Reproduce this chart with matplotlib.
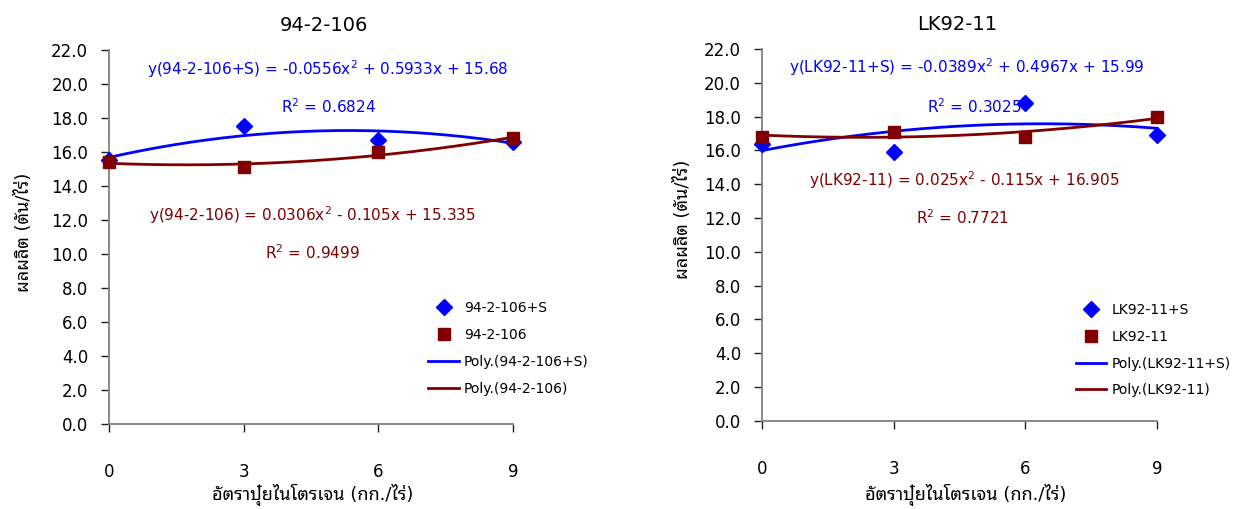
import numpy as np
import matplotlib
matplotlib.use("Agg")
import matplotlib.pyplot as plt

plt.rcParams['font.family'] = ['DejaVu Sans', 'Noto Sans Thai Looped']
plt.rcParams['mathtext.fontset'] = 'dejavusans'

# nitrogen rate (kg/rai)
rates = [0, 3, 6, 9]

# yield (ton/rai), 94-2-106
y_9421_s = [15.5, 17.5, 16.7, 16.6]
y_9421 = [15.4, 15.1, 16.0, 16.8]
# fitted polynomial coefficients (a, b, c) for a*x^2 + b*x + c
fit_9421_s = [-0.0556, 0.5933, 15.68]
fit_9421 = [0.0306, -0.105, 15.335]
r2_9421_s = 0.6824
r2_9421 = 0.9499

# yield (ton/rai), LK92-11
y_lk_s = [16.4, 15.9, 18.8, 16.9]
y_lk = [16.8, 17.1, 16.8, 18.0]
fit_lk_s = [-0.0389, 0.4967, 15.99]
fit_lk = [0.025, -0.115, 16.905]
r2_lk_s = 0.3025
r2_lk = 0.7721

y_ticks = np.arange(0, 22.1, 2)
BLUE = '#0000FF'
RED = '#800000'


def eq_text(name, coef):
    a, b, c = coef
    sb = '+' if b >= 0 else '-'
    sc = '+' if c >= 0 else '-'
    return 'y(%s) = %gx$^{2}$ %s %gx %s %g' % (name, a, sb, abs(b), sc, abs(c))


def draw_panel(ax, title, name_s, name, ys, yn, fit_s, fit_n, r2_s, r2_n, pos):
    xs = np.linspace(rates[0], rates[-1], 200)
    line_s, = ax.plot(xs, np.polyval(fit_s, xs), color=BLUE, lw=2.0,
                      clip_on=False, zorder=2)
    line_n, = ax.plot(xs, np.polyval(fit_n, xs), color=RED, lw=2.0,
                      clip_on=False, zorder=2)
    pts_s, = ax.plot(rates, ys, 'D', color=BLUE, ms=8, ls='none',
                     clip_on=False, zorder=3)
    pts_n, = ax.plot(rates, yn, 's', color=RED, ms=8, ls='none',
                     clip_on=False, zorder=3)

    ax.set_xlim(0, 9)
    ax.set_ylim(0, 22)
    ax.set_xticks(rates)
    ax.set_yticks(y_ticks)
    ax.set_yticklabels(['%.1f' % v for v in y_ticks])
    ax.tick_params(axis='both', direction='out', length=6, width=1,
                   color='#202020', labelsize=12)
    ax.tick_params(axis='x', pad=22)
    ax.tick_params(axis='y', pad=9)
    for side in ['top', 'right']:
        ax.spines[side].set_visible(False)
    for side in ['left', 'bottom']:
        ax.spines[side].set_color('#808080')
        ax.spines[side].set_linewidth(1.3)

    ax.set_title(title, fontsize=14, pad=14, x=pos['title'])
    ax.set_xlabel('อัตราปุ๋ยไนโตรเจน (กก./ไร่)', fontsize=13, va='center')
    ax.xaxis.set_label_coords(*pos['xlab'])
    ax.set_ylabel('ผลผลิต (ตัน/ไร่)', fontsize=13, va='center')
    ax.yaxis.set_label_coords(*pos['ylab'])

    ax.text(*pos['eq_s'], eq_text(name_s, fit_s),
            color=BLUE, fontsize=11, ha='center', va='center')
    ax.text(*pos['r2_s'], 'R$^{2}$ = %.4f' % r2_s,
            color=BLUE, fontsize=11, ha='center', va='center')
    ax.text(*pos['eq_n'], eq_text(name, fit_n),
            color=RED, fontsize=11, ha='center', va='center')
    ax.text(*pos['r2_n'], 'R$^{2}$ = %.4f' % r2_n,
            color=RED, fontsize=11, ha='center', va='center')

    ax.legend([pts_s, pts_n, line_s, line_n],
              [name_s, name, 'Poly.(%s)' % name_s, 'Poly.(%s)' % name],
              loc='upper left', bbox_to_anchor=pos['legend'], frameon=False,
              fontsize=10, handlelength=2.2, handletextpad=0.36,
              labelspacing=0.92, borderaxespad=0)


fig = plt.figure(figsize=(12.44, 5.09), dpi=100)
ax1 = fig.add_axes([0.0876, 0.167, 0.3248, 0.7348])
ax2 = fig.add_axes([0.6125, 0.173, 0.3175, 0.7308])

draw_panel(ax1, '94-2-106', '94-2-106+S', '94-2-106',
           y_9421_s, y_9421, fit_9421_s, fit_9421, r2_9421_s, r2_9421,
           {'title': 0.532, 'xlab': (0.505, -0.19), 'ylab': (-0.21, 0.513),
            'eq_s': (4.88, 20.9), 'r2_s': (4.88, 18.65),
            'eq_n': (4.54, 12.3), 'r2_n': (4.52, 10.06),
            'legend': (0.777, 0.343)})
draw_panel(ax2, 'LK92-11', 'LK92-11+S', 'LK92-11',
           y_lk_s, y_lk, fit_lk_s, fit_lk, r2_lk_s, r2_lk,
           {'title': 0.494, 'xlab': (0.517, -0.199), 'ylab': (-0.2, 0.543),
            'eq_s': (4.66, 20.9), 'r2_s': (4.83, 18.6),
            'eq_n': (4.6, 14.25), 'r2_n': (4.58, 12.0),
            'legend': (0.78, 0.332)})

fig.savefig('out.png', dpi=100)
